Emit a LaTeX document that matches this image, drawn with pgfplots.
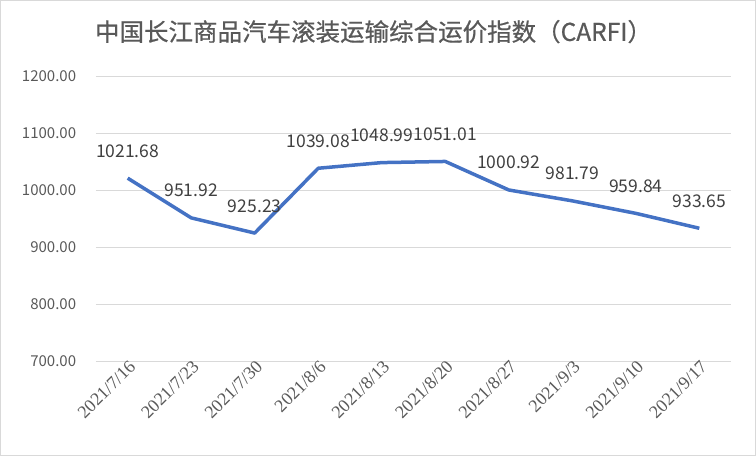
\documentclass[border=0pt]{standalone}
\usepackage{pgfplots}
\pgfplotsset{compat=1.18}
\usepackage{fontspec}
\setmainfont{Liberation Sans}
\newfontfamily\cjk{Noto Sans CJK SC}
\newfontfamily\cjkt[FakeBold=0.6]{Noto Sans CJK SC}
\newfontfamily\serif{Liberation Serif}
\definecolor{linec}{HTML}{4472C4}
\definecolor{txt}{HTML}{595959}
\definecolor{lbl}{HTML}{404040}
\definecolor{grid}{HTML}{D9D9D9}
\begin{document}
\begin{tikzpicture}
\begin{axis}[
  scale only axis,
  width=635pt, height=284.6pt,
  xmin=-0.5, xmax=9.5, ymin=700, ymax=1200,
  clip=false,
  axis x line*=bottom, axis y line*=left,
  y axis line style={draw=none},
  x axis line style={draw=grid, line width=0.8pt},
  ytick={700,800,...,1200},
  yticklabels={700.00,800.00,900.00,1000.00,1100.00,1200.00},
  ytick style={draw=none},
  ymajorgrids, major grid style={draw=grid, line width=0.8pt},
  yticklabel style={font=\cjk\fontsize{15}{18}\selectfont, text=txt, anchor=east, xshift=-12pt},
  xtick={0,...,9},
  xticklabels={2021/7/16,2021/7/23,2021/7/30,2021/8/6,2021/8/13,2021/8/20,2021/8/27,2021/9/3,2021/9/10,2021/9/17},
  xtick style={draw=none},
  minor xtick={-0.5,0.5,...,9.5},
  minor tick length=5pt,
  tick align=outside,
  minor tick style={draw=grid, line width=0.8pt},
  xticklabel style={font=\serif\fontsize{18}{20}\selectfont, text=txt, rotate=45, anchor=east, xshift=8pt, yshift=-2pt},
  point meta=explicit symbolic,
  nodes near coords,
  nodes near coords style={font=\cjk\fontsize{17.5}{20}\selectfont, text=lbl, anchor=south, inner sep=0pt, yshift=19pt},
]
\addplot[color=linec, line width=3.5pt, line join=round, mark=none] coordinates {
  (0,1021.68) [1021.68]
  (1,951.92) [951.92]
  (2,925.23) [925.23]
  (3,1039.08) [1039.08]
  (4,1048.99) [1048.99]
  (5,1051.01) [1051.01]
  (6,1000.92) [1000.92]
  (7,981.79) [981.79]
  (8,959.84) [959.84]
  (9,933.65) [933.65]
};
\draw[color=grid, line width=0.8pt] ([xshift=-95.5pt,yshift=-94.5pt]rel axis cs:0,0) rectangle ([xshift=24.5pt,yshift=76.2pt]rel axis cs:1,1);
\node[font=\cjkt\fontsize{24.5}{28}\selectfont, text=txt] at ([xshift=-40pt,yshift=45pt]rel axis cs:0.5,1) {中国长江商品汽车滚装运输综合运价指数（CARFI）};
\end{axis}
\end{tikzpicture}
\end{document}
